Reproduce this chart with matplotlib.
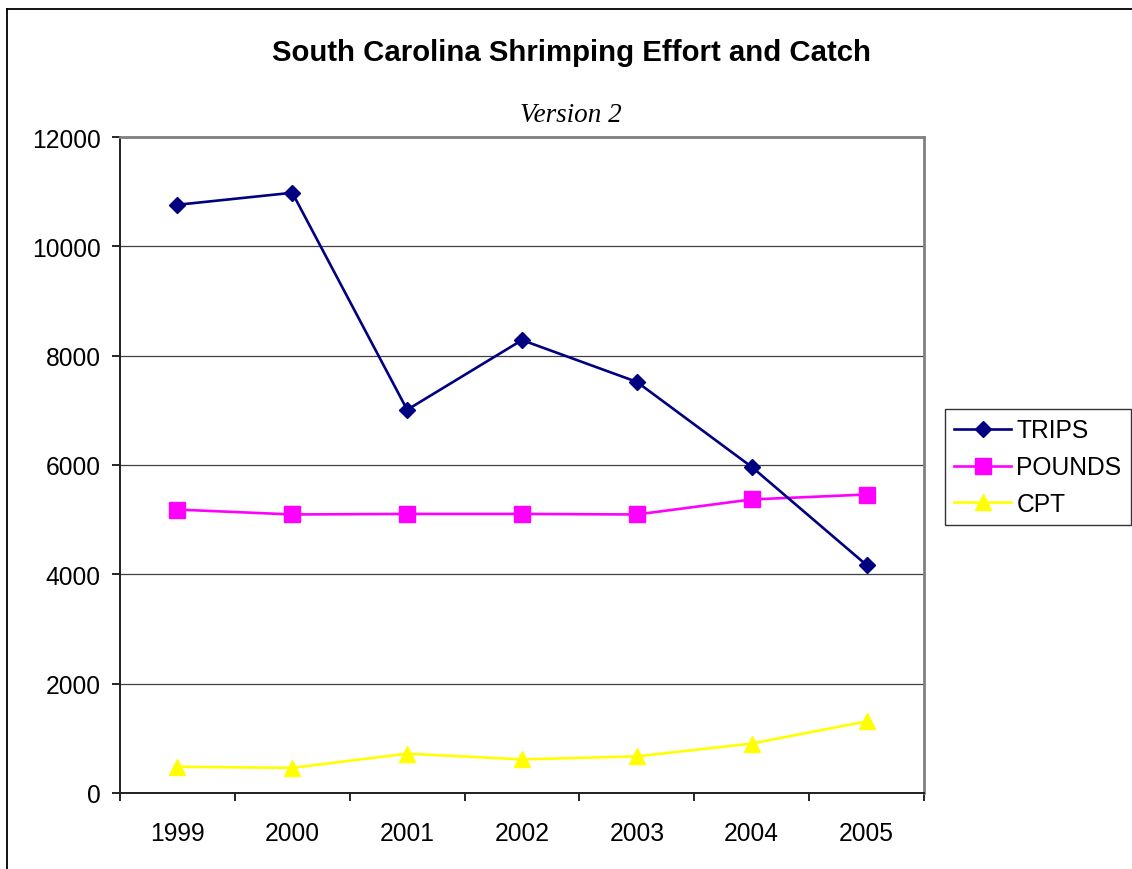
import matplotlib
matplotlib.use("Agg")
import matplotlib.pyplot as plt
from matplotlib.lines import Line2D
from matplotlib.ticker import FixedLocator, NullFormatter

plt.rcParams['font.family'] = ['Liberation Sans', 'DejaVu Sans']

years = ["1999", "2000", "2001", "2002", "2003", "2004", "2005"]
trips = [10760, 10980, 7010, 8285, 7520, 5965, 4170]
pounds = [5185, 5095, 5105, 5105, 5095, 5370, 5460]
cpt = [480, 460, 720, 615, 670, 905, 1310]

fig = plt.figure(figsize=(11.32, 8.70), dpi=100)
fig.patch.set_facecolor("white")

# outer chart frame (top and left edges)
fig.add_artist(Line2D([7 / 1132, 7 / 1132], [0, 1 - 10 / 870], transform=fig.transFigure,
                      color="black", lw=1.3))
fig.add_artist(Line2D([7 / 1132, 1], [1 - 10 / 870, 1 - 10 / 870], transform=fig.transFigure,
                      color="black", lw=1.3))

ax = fig.add_axes([120 / 1132, 1 - 794 / 870, 804 / 1132, 656 / 870])
x = list(range(len(years)))

ax.plot(x, trips, color="#000080", lw=1.9, marker="D", ms=8.2,
        markerfacecolor="#000080", markeredgecolor="#000080", label="TRIPS", zorder=4)
ax.plot(x, pounds, color="#FF00FF", lw=1.9, marker="s", ms=11,
        markerfacecolor="#FF00FF", markeredgecolor="#FF00FF", label="POUNDS", zorder=3)
ax.plot(x, cpt, color="#FFFF00", lw=1.9, marker="^", ms=11.5,
        markerfacecolor="#FFFF00", markeredgecolor="#FFFF00", label="CPT", zorder=3)

ax.set_xlim(-0.5, len(years) - 0.5)
ax.set_ylim(0, 12000)
ax.set_yticks(range(0, 12001, 2000))
ax.set_yticklabels([str(v) for v in range(0, 12001, 2000)])
ax.yaxis.grid(True, color="#404040", lw=0.9)
ax.set_axisbelow(True)

# category labels centered, tick marks between categories
ax.xaxis.set_major_locator(FixedLocator([i - 0.5 for i in range(len(years) + 1)]))
ax.xaxis.set_major_formatter(NullFormatter())
ax.xaxis.set_minor_locator(FixedLocator(x))
ax.set_xticklabels(years, minor=True)
ax.tick_params(axis="x", which="minor", length=0, pad=20, labelsize=17.7)
ax.tick_params(axis="x", which="major", direction="out", length=6, width=1.2, color="black")
ax.tick_params(axis="y", direction="out", length=6, width=1.2, color="black", pad=8, labelsize=17.7)

for side in ("top", "right"):
    ax.spines[side].set_color("#808080")
    ax.spines[side].set_linewidth(2.0)
for side in ("left", "bottom"):
    ax.spines[side].set_color("#202020")
    ax.spines[side].set_linewidth(1.4)

fig.text(571 / 1132, 1 - 53 / 870, "South Carolina Shrimping Effort and Catch",
         ha="center", va="center", fontsize=21.2, fontweight="bold")
fig.text(571 / 1132, 1 - 115 / 870, "Version 2", ha="center", va="center",
         fontsize=19.5, style="italic", family=["Liberation Serif", "DejaVu Serif"])

leg = fig.legend(loc="upper left", bbox_to_anchor=(945 / 1132, 1 - 410 / 870),
                 fontsize=17.7, frameon=True, fancybox=False, edgecolor="black",
                 handlelength=2.3, handletextpad=0.22, borderpad=0.38, labelspacing=0.52,
                 borderaxespad=0)
leg.get_frame().set_linewidth(1.0)

fig.savefig("out.png", dpi=100, facecolor="white")
